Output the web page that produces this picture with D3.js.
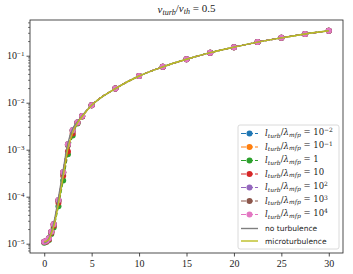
<!DOCTYPE html>
<html>
<head>
<meta charset="utf-8">
<script src="https://cdn.jsdelivr.net/npm/d3@7"></script>
<style>
  body { margin: 0; background: #fff; }
</style>
</head>
<body>
<svg></svg>
<script>
const W = 353, H = 274;
const svg = d3.select('svg').attr('width', W).attr('height', H)
  .style('font-family', '"Liberation Serif", serif');

// plot box
const boxL = 30, boxR = 343, boxT = 20, boxB = 253;

// data
const xs = [0, 0.25, 0.5, 0.75, 1, 1.5, 2, 2.5, 3, 3.5, 4, 5, 7.5, 10, 12.5, 15, 17.5, 20, 22.5, 25, 27.5, 30];
const tail = [8.8e-3, 0.020, 0.037, 0.058, 0.084, 0.116, 0.152, 0.195, 0.24, 0.29, 0.34];
const yBlue   = [1.1e-5, 1.15e-5, 1.3e-5, 1.8e-5, 2.6e-5, 8.4e-5, 3.3e-4, 1.3e-3, 2.6e-3, 3.8e-3, 5.2e-3].concat(tail);
const yOrange = [1.1e-5, 1.15e-5, 1.3e-5, 1.8e-5, 2.6e-5, 8.4e-5, 3.3e-4, 1.3e-3, 2.6e-3, 3.8e-3, 5.2e-3].concat(tail);
const yGreen  = [1.05e-5, 1.1e-5, 1.2e-5, 1.6e-5, 2.2e-5, 6.3e-5, 2.2e-4, 8.0e-4, 2.0e-3, 3.6e-3, 5.1e-3].concat(tail);
const yRed    = [1.08e-5, 1.12e-5, 1.25e-5, 1.7e-5, 2.4e-5, 7.4e-5, 2.8e-4, 9.2e-4, 2.2e-3, 3.7e-3, 5.1e-3].concat(tail);
const yPurple = [1.1e-5, 1.15e-5, 1.3e-5, 1.8e-5, 2.6e-5, 8.4e-5, 3.3e-4, 1.3e-3, 2.6e-3, 3.8e-3, 5.2e-3].concat(tail);
const yBrown  = [1.1e-5, 1.15e-5, 1.3e-5, 1.8e-5, 2.6e-5, 8.2e-5, 3.2e-4, 1.25e-3, 2.5e-3, 3.8e-3, 5.2e-3].concat(tail);
const yPink   = [1.1e-5, 1.15e-5, 1.3e-5, 1.8e-5, 2.6e-5, 8.5e-5, 3.3e-4, 1.3e-3, 2.6e-3, 3.8e-3, 5.2e-3].concat(tail);
const yNoTurb = [1.05e-5, 1.1e-5, 1.3e-5, 1.75e-5, 2.7e-5, 9.5e-5, 3.7e-4, 1.4e-3, 2.8e-3, 3.9e-3, 5.3e-3].concat(tail);
const yMicro  = [1.1e-5, 1.15e-5, 1.25e-5, 1.65e-5, 2.3e-5, 7.0e-5, 2.7e-4, 1.05e-3, 2.3e-3, 3.7e-3, 5.1e-3].concat(tail);

const seriesExp = ['-2', '-1', '', '', '2', '3', '4'];
const seriesBase = ['10', '10', '1', '10', '10', '10', '10'];
const seriesColors = ['#1f77b4', '#ff7f0e', '#2ca02c', '#d62728', '#9467bd', '#8c564b', '#e377c2'];
const seriesY = [yBlue, yOrange, yGreen, yRed, yPurple, yBrown, yPink];

const xTicks = [0, 5, 10, 15, 20, 25, 30];
const yTicks = [1e-5, 1e-4, 1e-3, 1e-2, 1e-1];
const yTickExp = ['-5', '-4', '-3', '-2', '-1'];

// scales
const x = d3.scaleLinear().domain([-1.5, 31.5]).range([boxL, boxR]);
const y = d3.scaleLog().domain([Math.pow(10, -5.198), Math.pow(10, -0.24)]).range([boxB, boxT]);

// clip
svg.append('clipPath').attr('id', 'clip')
  .append('rect').attr('x', boxL).attr('y', boxT).attr('width', boxR - boxL).attr('height', boxB - boxT);
const plot = svg.append('g').attr('clip-path', 'url(#clip)');

const line = d3.line().x(d => x(d[0])).y(d => y(d[1])).curve(d3.curveMonotoneX);

// dashed series with circle markers
seriesY.forEach((ys, i) => {
  const pts = xs.map((v, j) => [v, ys[j]]);
  plot.append('path').datum(pts)
    .attr('d', line)
    .attr('fill', 'none')
    .attr('stroke', seriesColors[i])
    .attr('stroke-width', 1.2)
    .attr('stroke-dasharray', '4,2');
  plot.selectAll(null).data(pts).enter().append('circle')
    .attr('cx', d => x(d[0]))
    .attr('cy', d => y(d[1]))
    .attr('r', 3)
    .attr('fill', seriesColors[i]);
});

// solid lines
plot.append('path').datum(xs.map((v, j) => [v, yNoTurb[j]]))
  .attr('d', line).attr('fill', 'none').attr('stroke', '#7f7f7f').attr('stroke-width', 1.4);
plot.append('path').datum(xs.map((v, j) => [v, yMicro[j]]))
  .attr('d', line).attr('fill', 'none').attr('stroke', '#bcbd22').attr('stroke-width', 1.4);

// x axis
const xAxis = svg.append('g').attr('transform', `translate(0,${boxB})`)
  .call(d3.axisBottom(x).tickValues(xTicks).tickSize(3.5).tickPadding(3).tickFormat(d3.format('d')));
xAxis.select('.domain').remove();
xAxis.selectAll('.tick line').attr('stroke', '#222').attr('stroke-width', 0.8);
xAxis.selectAll('.tick text').style('font-family', '"Liberation Serif", serif').attr('font-size', 10).attr('fill', '#222');

// y axis, major
const yAxis = svg.append('g').attr('transform', `translate(${boxL},0)`)
  .call(d3.axisLeft(y).tickValues(yTicks).tickSize(3.5).tickPadding(2).tickFormat(''));
yAxis.select('.domain').remove();
yAxis.selectAll('.tick line').attr('stroke', '#222').attr('stroke-width', 0.8);
yAxis.selectAll('.tick text').each(function(d, i) {
  const t = d3.select(this).style('font-family', '"Liberation Serif", serif')
    .attr('font-size', 10).attr('fill', '#222').attr('dy', '0.32em');
  t.append('tspan').text('10');
  t.append('tspan').attr('dy', '-0.45em').attr('font-size', 7).text('\u2212' + yTickExp[i].slice(1));
});

// y axis, minor
const minor = [];
for (let e = -6; e <= 0; e++) for (let m = 2; m <= 9; m++) {
  const v = m * Math.pow(10, e);
  if (v >= y.domain()[0] && v <= y.domain()[1]) minor.push(v);
}
svg.append('g').selectAll('line').data(minor).enter().append('line')
  .attr('x1', boxL - 2).attr('x2', boxL)
  .attr('y1', d => y(d)).attr('y2', d => y(d))
  .attr('stroke', '#222').attr('stroke-width', 0.6);

// frame
svg.append('rect').attr('x', boxL).attr('y', boxT).attr('width', boxR - boxL).attr('height', boxB - boxT)
  .attr('fill', 'none').attr('stroke', '#222').attr('stroke-width', 0.8);

// title
const title = svg.append('text').attr('x', (boxL + boxR) / 2).attr('y', 13)
  .attr('text-anchor', 'middle').attr('font-size', 11).attr('fill', '#222');
title.append('tspan').attr('font-style', 'italic').text('v');
title.append('tspan').attr('font-style', 'italic').attr('font-size', 8).attr('dy', '0.25em').text('turb');
title.append('tspan').attr('dy', '-0.25em').text('/');
title.append('tspan').attr('font-style', 'italic').text('v');
title.append('tspan').attr('font-style', 'italic').attr('font-size', 8).attr('dy', '0.25em').text('th');
title.append('tspan').attr('dy', '-0.25em').text(' = 0.5');

// legend
const lg = svg.append('g');
const lgX = 238, lgY = 125, lgW = 101, lgH = 124, rowH = 13.5;
lg.append('rect').attr('x', lgX).attr('y', lgY).attr('width', lgW).attr('height', lgH)
  .attr('rx', 2).attr('fill', 'white').attr('fill-opacity', 0.8)
  .attr('stroke', '#d0d0d0').attr('stroke-width', 0.8);

seriesColors.forEach((c, i) => {
  const cy = lgY + 8.5 + i * rowH;
  lg.append('line').attr('x1', lgX + 3).attr('x2', lgX + 20).attr('y1', cy).attr('y2', cy)
    .attr('stroke', c).attr('stroke-width', 1.2).attr('stroke-dasharray', '5,2');
  lg.append('circle').attr('cx', lgX + 11.5).attr('cy', cy).attr('r', 3).attr('fill', c);
  const t = lg.append('text').attr('x', lgX + 27).attr('y', cy + 2.5)
    .style('font-family', '"DejaVu Serif", serif').attr('font-size', 8.5).attr('fill', '#222');
  t.append('tspan').attr('font-style', 'italic').text('l');
  t.append('tspan').attr('font-style', 'italic').attr('font-size', 6).attr('dy', '0.25em').text('turb');
  t.append('tspan').attr('dy', '-0.25em').text('/');
  t.append('tspan').attr('font-style', 'italic').text('\u03bb');
  t.append('tspan').attr('font-style', 'italic').attr('font-size', 6).attr('dy', '0.25em').text('mfp');
  t.append('tspan').attr('dy', '-0.25em').text(' = ' + seriesBase[i]);
  if (seriesExp[i]) {
    const ex = seriesExp[i].startsWith('-') ? '\u2212' + seriesExp[i].slice(1) : seriesExp[i];
    t.append('tspan').attr('font-size', 6).attr('dy', '-0.45em').text(ex);
  }
});

[['no turbulence', '#7f7f7f'], ['microturbulence', '#bcbd22']].forEach((d, k) => {
  const cy = lgY + 103.5 + k * 12.5;
  lg.append('line').attr('x1', lgX + 3).attr('x2', lgX + 20).attr('y1', cy).attr('y2', cy)
    .attr('stroke', d[1]).attr('stroke-width', 1.4);
  lg.append('text').attr('x', lgX + 27).attr('y', cy + 2.6)
    .style('font-family', '"DejaVu Sans", sans-serif').attr('font-size', 7.5).attr('fill', '#222').text(d[0]);
});
</script>
</body>
</html>
